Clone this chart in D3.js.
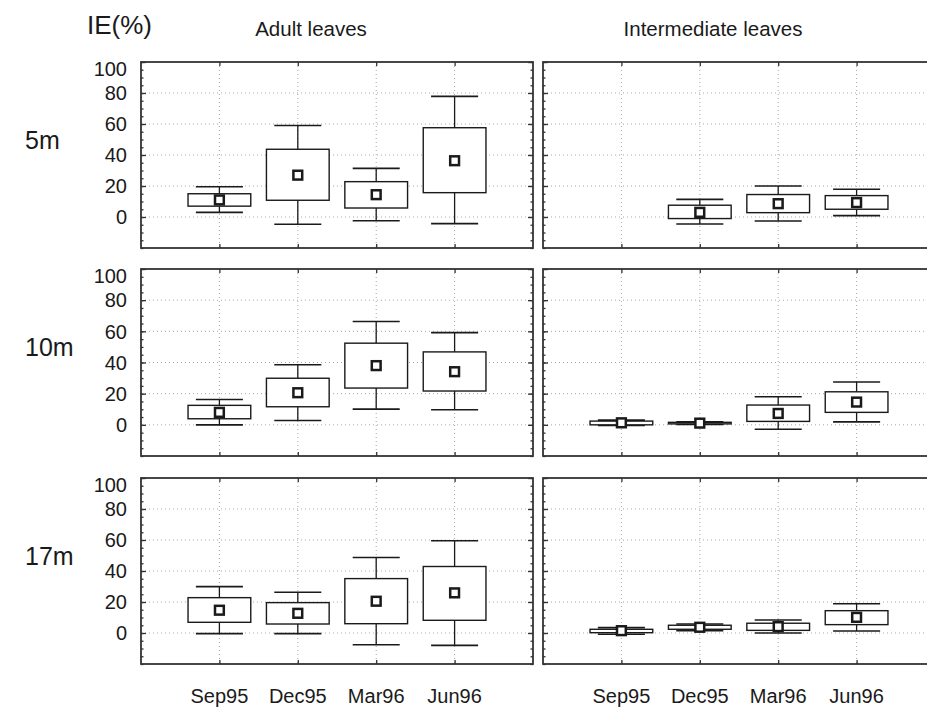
<!DOCTYPE html>
<html>
<head>
<meta charset="utf-8">
<script src="https://cdn.jsdelivr.net/npm/d3@7"></script>
<style>
  html, body { margin: 0; padding: 0; background: #fff; }
  svg { display: block; font-family: "Liberation Sans", Arial, sans-serif; }
</style>
</head>
<body>
<svg id="chart" width="927" height="708"></svg>
<script>
// ---- data ----
const months = ["Sep95", "Dec95", "Mar96", "Jun96"];
const columns = ["Adult leaves", "Intermediate leaves"];
const depths = ["5m", "10m", "17m"];
const yTicks = [0, 20, 40, 60, 80, 100];
// each entry: [whisker low, box low, mean, box high, whisker high]
const adult5m  = [[3, 7, 11, 15, 19.5], [-4.7, 10.8, 27, 43.7, 59], [-2.4, 5.8, 14.4, 22.8, 31.4], [-4.3, 15.7, 36.3, 57.6, 77.8]];
const inter5m  = [null, [-4.5, -1, 3, 7.6, 11.4], [-2.6, 2.8, 8.6, 14.5, 20], [0.9, 5, 9.3, 13.8, 17.9]];
const adult10m = [[0, 3.9, 8, 12.5, 16.3], [2.8, 11.6, 20.6, 29.9, 38.6], [10.1, 23.6, 38, 52.4, 66.3], [9.7, 21.7, 34.1, 46.8, 59.2]];
const inter10m = [[-0.4, 0, 1.3, 2.4, 3], [0.3, 0.6, 1.1, 1.6, 1.9], [-2.8, 2.2, 7.3, 12.7, 18], [1.9, 8, 14.6, 21.2, 27.5]];
const adult17m = [[-0.4, 6.9, 14.7, 22.8, 29.9], [-0.4, 5.8, 12.7, 19.6, 26.3], [-7.6, 6, 20.5, 35.1, 48.7], [-8, 8.2, 25.9, 42.9, 59.5]];
const inter17m = [[-0.8, 0.2, 1.5, 2.4, 3.5], [1.5, 2.4, 3.7, 5, 5.8], [0, 1.7, 4.1, 6.3, 8.4], [1.3, 5.4, 10.1, 14.4, 18.9]];
const panelData = [[adult5m, inter5m], [adult10m, inter10m], [adult17m, inter17m]];

// ---- layout ----
const svg = d3.select("#chart");
const colX = [141, 543];
const panelW = 392;
const rowY = [[62, 248], [269, 456], [478, 664]];
const ink = "#1a1a1a";

rowY.forEach(([top, bottom], r) => {
  const y = d3.scaleLinear().domain([-20, 100]).range([bottom, top]);
  colX.forEach((x0, c) => {
    const x = d3.scaleLinear().domain([0, 5]).range([x0, x0 + panelW]);
    const g = svg.append("g");

    // grid
    g.selectAll("line.hg").data(yTicks.filter(v => v < 100)).join("line")
      .attr("x1", x0).attr("x2", x0 + panelW)
      .attr("y1", d => y(d)).attr("y2", d => y(d))
      .attr("stroke", "#a8a8a8").attr("stroke-width", 1).attr("stroke-dasharray", "1,3");
    g.selectAll("line.vg").data(months).join("line")
      .attr("x1", (d, i) => x(i + 1)).attr("x2", (d, i) => x(i + 1))
      .attr("y1", top).attr("y2", bottom)
      .attr("stroke", "#a8a8a8").attr("stroke-width", 1).attr("stroke-dasharray", "1,3");

    // axes ticks (inside)
    const minor = d3.range(-20, 101, 5);
    const axL = g.append("g").attr("transform", `translate(${x0},0)`)
      .call(d3.axisLeft(y).tickValues(minor).tickSize(-2.5).tickFormat(""));
    const axL2 = g.append("g").attr("transform", `translate(${x0},0)`)
      .call(d3.axisLeft(y).tickValues(yTicks).tickSize(-5).tickFormat(""));
    const axR = g.append("g").attr("transform", `translate(${x0 + panelW},0)`)
      .call(d3.axisRight(y).tickValues(minor).tickSize(-2.5).tickFormat(""));
    const axR2 = g.append("g").attr("transform", `translate(${x0 + panelW},0)`)
      .call(d3.axisRight(y).tickValues(yTicks).tickSize(-5).tickFormat(""));
    const axT = g.append("g").attr("transform", `translate(0,${top})`)
      .call(d3.axisTop(x).tickValues([1, 2, 3, 4]).tickSize(-4).tickFormat(""));
    const axB = g.append("g").attr("transform", `translate(0,${bottom})`)
      .call(d3.axisBottom(x).tickValues([1, 2, 3, 4]).tickSize(-4).tickFormat(""));
    [axL, axL2, axR, axR2, axT, axB].forEach(a => {
      a.select(".domain").remove();
      a.selectAll("line").attr("stroke", "#333").attr("stroke-width", 1.3);
    });

    // frame
    g.append("rect").attr("x", x0).attr("y", top).attr("width", panelW).attr("height", bottom - top)
      .attr("fill", "none").attr("stroke", "#333").attr("stroke-width", 1.8);

    // boxes
    const data = panelData[r][c];
    data.forEach((d, i) => {
      if (!d) return;
      const [wl, bl, m, bh, wh] = d;
      const cx = x(i + 1);
      const bw = x(0.4) - x(0);
      const cw = x(0.3) - x(0);
      const b = g.append("g");
      b.append("line").attr("x1", cx).attr("x2", cx).attr("y1", y(wl)).attr("y2", y(wh))
        .attr("stroke", ink).attr("stroke-width", 1.3);
      [wl, wh].forEach(v => b.append("line").attr("x1", cx - cw).attr("x2", cx + cw)
        .attr("y1", y(v)).attr("y2", y(v)).attr("stroke", ink).attr("stroke-width", 1.6));
      b.append("rect").attr("x", cx - bw).attr("width", 2 * bw)
        .attr("y", y(bh)).attr("height", Math.max(0.5, y(bl) - y(bh)))
        .attr("fill", "#fff").attr("stroke", ink).attr("stroke-width", 1.4);
      b.append("rect").attr("x", cx - 4.4).attr("y", y(m) - 4.4).attr("width", 8.8).attr("height", 8.8)
        .attr("fill", "#fff").attr("stroke", ink).attr("stroke-width", 2.5);
    });
  });

  // y tick labels (left panel only)
  svg.append("g").selectAll("text").data(yTicks).join("text")
    .attr("x", 127)
    .attr("y", d => Math.max(y(d), top + 7))
    .attr("dy", "0.36em")
    .attr("text-anchor", "end")
    .attr("font-size", 20)
    .attr("fill", ink)
    .text(d => d);

  // depth label
  svg.append("text").attr("x", 25).attr("y", top + 87)
    .attr("font-size", 25).attr("fill", ink).text(depths[r]);
});

// column titles
svg.append("text").attr("x", 311).attr("y", 36).attr("text-anchor", "middle")
  .attr("font-size", 20.5).attr("fill", ink).text(columns[0]);
svg.append("text").attr("x", 713).attr("y", 36).attr("text-anchor", "middle")
  .attr("font-size", 20.5).attr("fill", ink).text(columns[1]);
svg.append("text").attr("x", 87).attr("y", 34)
  .attr("font-size", 26).attr("fill", ink).text("IE(%)");

// month labels
colX.forEach(x0 => {
  const x = d3.scaleLinear().domain([0, 5]).range([x0, x0 + panelW]);
  svg.append("g").selectAll("text").data(months).join("text")
    .attr("x", (d, i) => x(i + 1))
    .attr("y", 703)
    .attr("text-anchor", "middle")
    .attr("font-size", 20)
    .attr("fill", ink)
    .text(d => d);
});
</script>
</body>
</html>
